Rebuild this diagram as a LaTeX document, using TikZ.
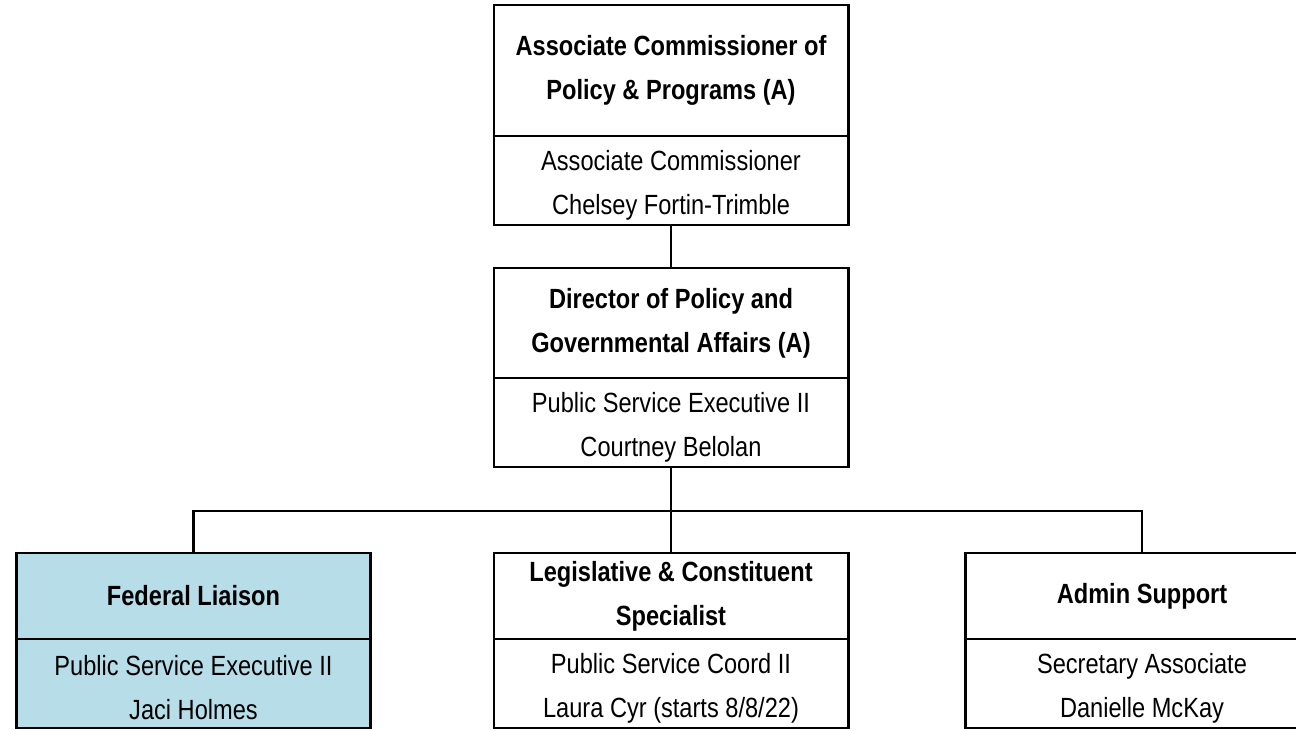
\documentclass[tikz,border=0pt]{standalone}
\usepackage{fontspec}
\setmainfont{Liberation Sans}[FakeStretch=0.85]
\usetikzlibrary{positioning}

\definecolor{liaisonblue}{HTML}{B7DDE8}

\tikzset{
  post/.style={draw, line width=1.7pt, inner sep=0pt, outer sep=0pt,
    minimum width=7.08cm, align=center,
    font=\fontsize{15.8}{25}\selectfont},
  titlebox/.style={post, font=\fontsize{15.8}{25}\selectfont\bfseries},
  infobox/.style={post, minimum height=1.78cm, text height=1.46cm},
  link/.style={line width=1.5pt}
}

\begin{document}
\begin{tikzpicture}
  \clip (0,0) rectangle (25.92,14.6);

  % Associate Commissioner
  \node[titlebox, minimum height=2.62cm] (acTitle) at (13.42,13.19)
    {Associate Commissioner of\\Policy \& Programs (A)};
  \node[infobox, below=0pt of acTitle] (acInfo)
    {Associate Commissioner\\Chelsey Fortin-Trimble};

  % Director
  \node[titlebox, minimum height=2.2cm] (dirTitle) at (13.42,8.14)
    {Director of Policy and\\Governmental Affairs (A)};
  \node[infobox, below=0pt of dirTitle] (dirInfo)
    {Public Service Executive II\\Courtney Belolan};

  % Staff row
  \node[titlebox, fill=liaisonblue, minimum height=1.72cm] (fedTitle) at (3.87,2.68)
    {Federal Liaison};
  \node[infobox, fill=liaisonblue, below=0pt of fedTitle] (fedInfo)
    {Public Service Executive II\\Jaci Holmes};

  \node[titlebox, minimum height=1.72cm] (legTitle) at (13.42,2.68)
    {Legislative \& Constituent\\Specialist};
  \node[infobox, below=0pt of legTitle] (legInfo)
    {Public Service Coord II\\Laura Cyr (starts 8/8/22)};

  \node[titlebox, minimum height=1.72cm] (admTitle) at (22.84,2.68)
    {Admin Support};
  \node[infobox, below=0pt of admTitle] (admInfo)
    {Secretary Associate\\Danielle McKay};

  % Lines
  \coordinate (bus) at (13.42,4.38);
  \draw[link] (acInfo.south) -- (dirTitle.north);
  \draw[link] (dirInfo.south) -- (legTitle.north);
  \draw[link] (fedTitle.north) |- (bus) -| (admTitle.north);
\end{tikzpicture}
\end{document}
